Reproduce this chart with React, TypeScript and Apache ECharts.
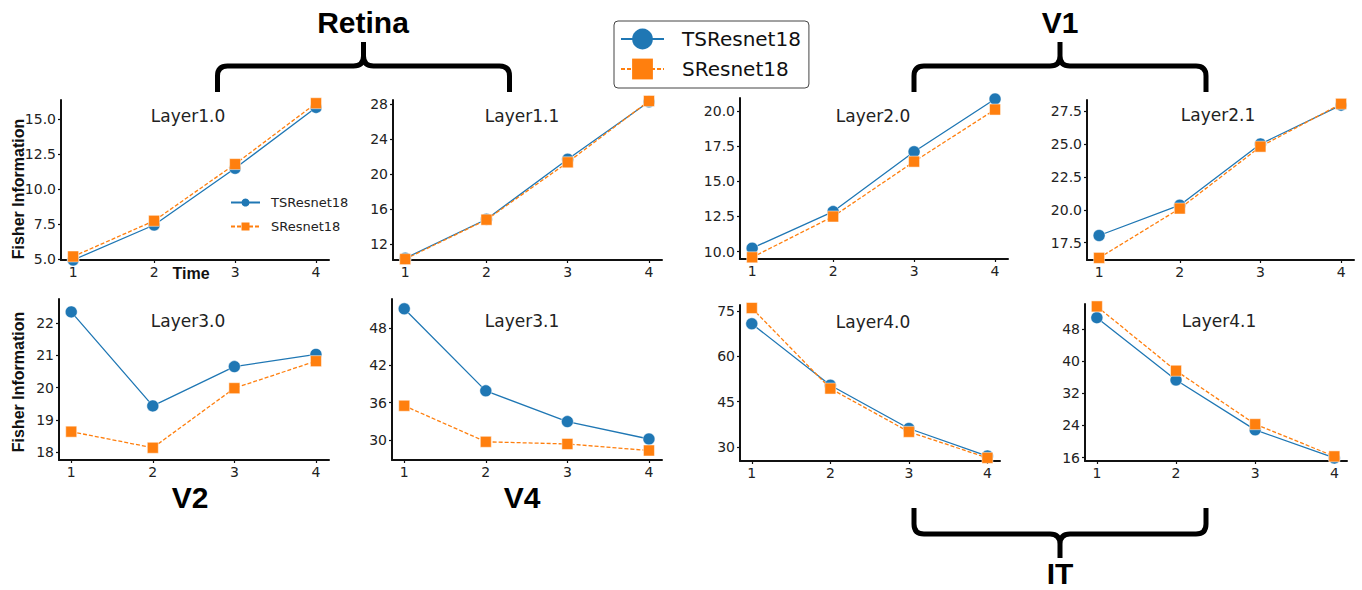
import React, { useEffect, useRef } from 'react';
import * as echarts from 'echarts';

// Time steps on every x axis
const TIMES = [1, 2, 3, 4];

const LAYER_NAMES = ['Layer1.0', 'Layer1.1', 'Layer2.0', 'Layer2.1', 'Layer3.0', 'Layer3.1', 'Layer4.0', 'Layer4.1'];
const SERIES_NAMES = ['TSResnet18', 'SResnet18'];

// Fisher information per layer and time step
const TS_LAYER1_0 = [4.95, 7.45, 11.5, 15.85];
const SR_LAYER1_0 = [5.2, 7.75, 11.8, 16.15];
const TS_LAYER1_1 = [10.4, 14.85, 21.7, 28.25];
const SR_LAYER1_1 = [10.3, 14.8, 21.35, 28.35];
const TS_LAYER2_0 = [10.25, 12.85, 17.1, 20.85];
const SR_LAYER2_0 = [9.6, 12.5, 16.4, 20.1];
const TS_LAYER2_1 = [18.05, 20.35, 25.0, 27.95];
const SR_LAYER2_1 = [16.35, 20.1, 24.8, 28.05];
const TS_LAYER3_0 = [22.35, 19.43, 20.65, 21.03];
const SR_LAYER3_0 = [18.63, 18.13, 19.98, 20.82];
const TS_LAYER3_1 = [51.1, 37.9, 32.95, 30.15];
const SR_LAYER3_1 = [35.5, 29.7, 29.35, 28.3];
const TS_LAYER4_0 = [70.7, 50.4, 36.1, 27.0];
const SR_LAYER4_0 = [75.9, 49.3, 35.0, 26.4];
const TS_LAYER4_1 = [50.8, 35.3, 22.9, 15.9];
const SR_LAYER4_1 = [53.6, 37.6, 24.3, 16.3];

const TS_VALUES = [TS_LAYER1_0, TS_LAYER1_1, TS_LAYER2_0, TS_LAYER2_1, TS_LAYER3_0, TS_LAYER3_1, TS_LAYER4_0, TS_LAYER4_1];
const SR_VALUES = [SR_LAYER1_0, SR_LAYER1_1, SR_LAYER2_0, SR_LAYER2_1, SR_LAYER3_0, SR_LAYER3_1, SR_LAYER4_0, SR_LAYER4_1];

// y tick labels and limits per panel
const Y_TICKS = [
  [5, 7.5, 10, 12.5, 15],
  [12, 16, 20, 24, 28],
  [10, 12.5, 15, 17.5, 20],
  [17.5, 20, 22.5, 25, 27.5],
  [18, 19, 20, 21, 22],
  [30, 36, 42, 48],
  [30, 45, 60, 75],
  [16, 24, 32, 40, 48],
];
const Y_DECIMALS = [1, 0, 1, 1, 0, 0, 0, 0];
const Y_MIN = [4.95, 10.2, 9.48, 16.19, 17.75, 26.77, 25.36, 15.15];
const Y_MAX = [16.38, 28.46, 20.92, 28.34, 22.75, 52.68, 76.9, 54.2];
const X_MIN = 0.85;
const X_MAX = 4.16;

// Brain-region annotations
const REGION_LABELS = ['Retina', 'V1', 'V2', 'V4', 'IT'];

// Panel frames: left, top, width, height
const FRAMES = [
  [61, 100, 268, 160],
  [393, 100, 269, 160],
  [740, 98, 268, 161],
  [1087, 100, 267, 160],
  [59, 299, 270, 161],
  [392, 299, 270, 161],
  [740, 305, 260, 156],
  [1085, 304, 262, 157],
];
const TITLE_POS = [
  [188, 116], [522, 116], [873, 116], [1218, 115],
  [188, 321], [522, 321], [873, 322], [1219, 321],
];

const BLUE = '#1f77b4';
const ORANGE = '#ff7f0e';
const INK = '#111';
const TICK_FONT = '"DejaVu Sans", sans-serif';
const BOLD_FONT = '"Liberation Sans", Arial, sans-serif';

// Curly brace opening downwards, 292 wide, tip at (146, 0)
const BRACE_D =
  'M0 50 L0 34 Q0 24 10 24 L136 24 Q146 24 146 14 L146 0 M146 14 Q146 24 156 24 L282 24 Q292 24 292 34 L292 50';
echarts.graphic.registerShape('brace', echarts.graphic.extendPath(BRACE_D, {}));

function buildOption() {
  const grid: any[] = [];
  const xAxis: any[] = [];
  const yAxis: any[] = [];
  const series: any[] = [];
  const graphic: any[] = [];

  FRAMES.forEach((f, i) => {
    grid.push({ left: f[0], top: f[1], width: f[2], height: f[3] });
    xAxis.push({
      type: 'value',
      gridIndex: i,
      min: X_MIN,
      max: X_MAX,
      splitLine: { show: false },
      axisLine: { show: true, onZero: false, lineStyle: { color: INK, width: 2 } },
      axisTick: { show: true, length: 3, customValues: TIMES, lineStyle: { color: INK, width: 1.2 } },
      axisLabel: {
        customValues: TIMES,
        fontSize: 14,
        fontFamily: TICK_FONT,
        color: '#222',
        margin: 5,
      },
    });
    const dec = Y_DECIMALS[i];
    yAxis.push({
      type: 'value',
      gridIndex: i,
      min: Y_MIN[i],
      max: Y_MAX[i],
      splitLine: { show: false },
      axisLine: { show: true, onZero: false, lineStyle: { color: INK, width: 2 } },
      axisTick: { show: true, length: 3, customValues: Y_TICKS[i], lineStyle: { color: INK, width: 1.2 } },
      axisLabel: {
        customValues: Y_TICKS[i],
        formatter: (v: number) => v.toFixed(dec),
        fontSize: 14,
        fontFamily: TICK_FONT,
        color: '#222',
        margin: 5,
      },
    });
    series.push({
      type: 'line',
      name: SERIES_NAMES[0],
      xAxisIndex: i,
      yAxisIndex: i,
      data: TIMES.map((t, k) => [t, TS_VALUES[i][k]]),
      symbol: 'circle',
      symbolSize: 12,
      lineStyle: { color: BLUE, width: 1.3 },
      itemStyle: { color: BLUE, borderColor: '#fff', borderWidth: 0.5 },
      z: 2,
    });
    series.push({
      type: 'line',
      name: SERIES_NAMES[1],
      xAxisIndex: i,
      yAxisIndex: i,
      data: TIMES.map((t, k) => [t, SR_VALUES[i][k]]),
      symbol: 'rect',
      symbolSize: 11,
      lineStyle: { color: ORANGE, width: 1.3, type: [4, 2] },
      itemStyle: { color: ORANGE, borderColor: '#fff', borderWidth: 0.5 },
      z: 3,
    });
    graphic.push({
      type: 'text',
      x: TITLE_POS[i][0],
      y: TITLE_POS[i][1],
      style: {
        text: LAYER_NAMES[i],
        font: `17px ${TICK_FONT}`,
        fill: '#222',
        textAlign: 'center',
        textVerticalAlign: 'middle',
      },
    });
  });

  // y-axis titles on the left column
  [189, 382].forEach((cy) => {
    graphic.push({
      type: 'text',
      x: 18,
      y: cy,
      rotation: Math.PI / 2,
      style: {
        text: 'Fisher Information',
        font: `bold 16px ${BOLD_FONT}`,
        fill: INK,
        textAlign: 'center',
        textVerticalAlign: 'middle',
      },
    });
  });
  graphic.push({
    type: 'text',
    x: 191,
    y: 273,
    style: {
      text: 'Time',
      font: `bold 16px ${BOLD_FONT}`,
      fill: INK,
      textAlign: 'center',
      textVerticalAlign: 'middle',
    },
  });

  // Region annotations and braces
  const regionPos = [
    [363, 22],
    [1060, 22],
    [190, 497],
    [522, 497],
    [1060, 573],
  ];
  REGION_LABELS.forEach((label, i) => {
    graphic.push({
      type: 'text',
      x: regionPos[i][0],
      y: regionPos[i][1],
      style: {
        text: label,
        font: `bold 30px ${BOLD_FONT}`,
        fill: '#000',
        textAlign: 'center',
        textVerticalAlign: 'middle',
      },
    });
  });
  const braceStyle = { stroke: '#000', lineWidth: 5, fill: 'none', lineJoin: 'round', lineCap: 'butt' };
  graphic.push({ type: 'brace', x: 217.5, y: 42, style: braceStyle });
  graphic.push({ type: 'brace', x: 914, y: 42, style: braceStyle });
  graphic.push({ type: 'brace', x: 914, y: 558, scaleY: -1, style: braceStyle });

  const legend = [
    {
      data: SERIES_NAMES,
      orient: 'vertical',
      left: 614,
      top: 21,
      padding: [5, 8, 6, 6],
      itemWidth: 43,
      itemHeight: 26,
      itemGap: 4,
      backgroundColor: '#fff',
      borderColor: '#444',
      borderWidth: 1,
      borderRadius: 4,
      lineStyle: { width: 2 },
      itemStyle: { borderWidth: 0 },
      textStyle: { fontSize: 20, fontFamily: TICK_FONT, color: '#111', padding: [0, 0, 0, 13], height: 26, lineHeight: 26 },
      selectedMode: false,
    },
    {
      data: SERIES_NAMES,
      orient: 'vertical',
      left: 230,
      top: 196,
      padding: 0,
      itemWidth: 29,
      itemHeight: 10,
      itemGap: 11,
      itemStyle: { borderWidth: 0 },
      textStyle: { fontSize: 13, fontFamily: TICK_FONT, color: '#222', padding: [0, 0, 0, 6] },
      selectedMode: false,
    },
  ];

  return {
    animation: false,
    backgroundColor: '#fff',
    grid,
    xAxis,
    yAxis,
    series,
    legend,
    graphic,
  };
}

export default function App() {
  const ref = useRef<HTMLDivElement>(null);

  useEffect(() => {
    document.body.style.margin = '0';
    if (!ref.current) return;
    const chart = echarts.init(ref.current, undefined, { renderer: 'svg' });
    chart.setOption(buildOption() as any);
    return () => chart.dispose();
  }, []);

  return <div ref={ref} style={{ width: 1362, height: 590, background: '#fff' }} />;
}
